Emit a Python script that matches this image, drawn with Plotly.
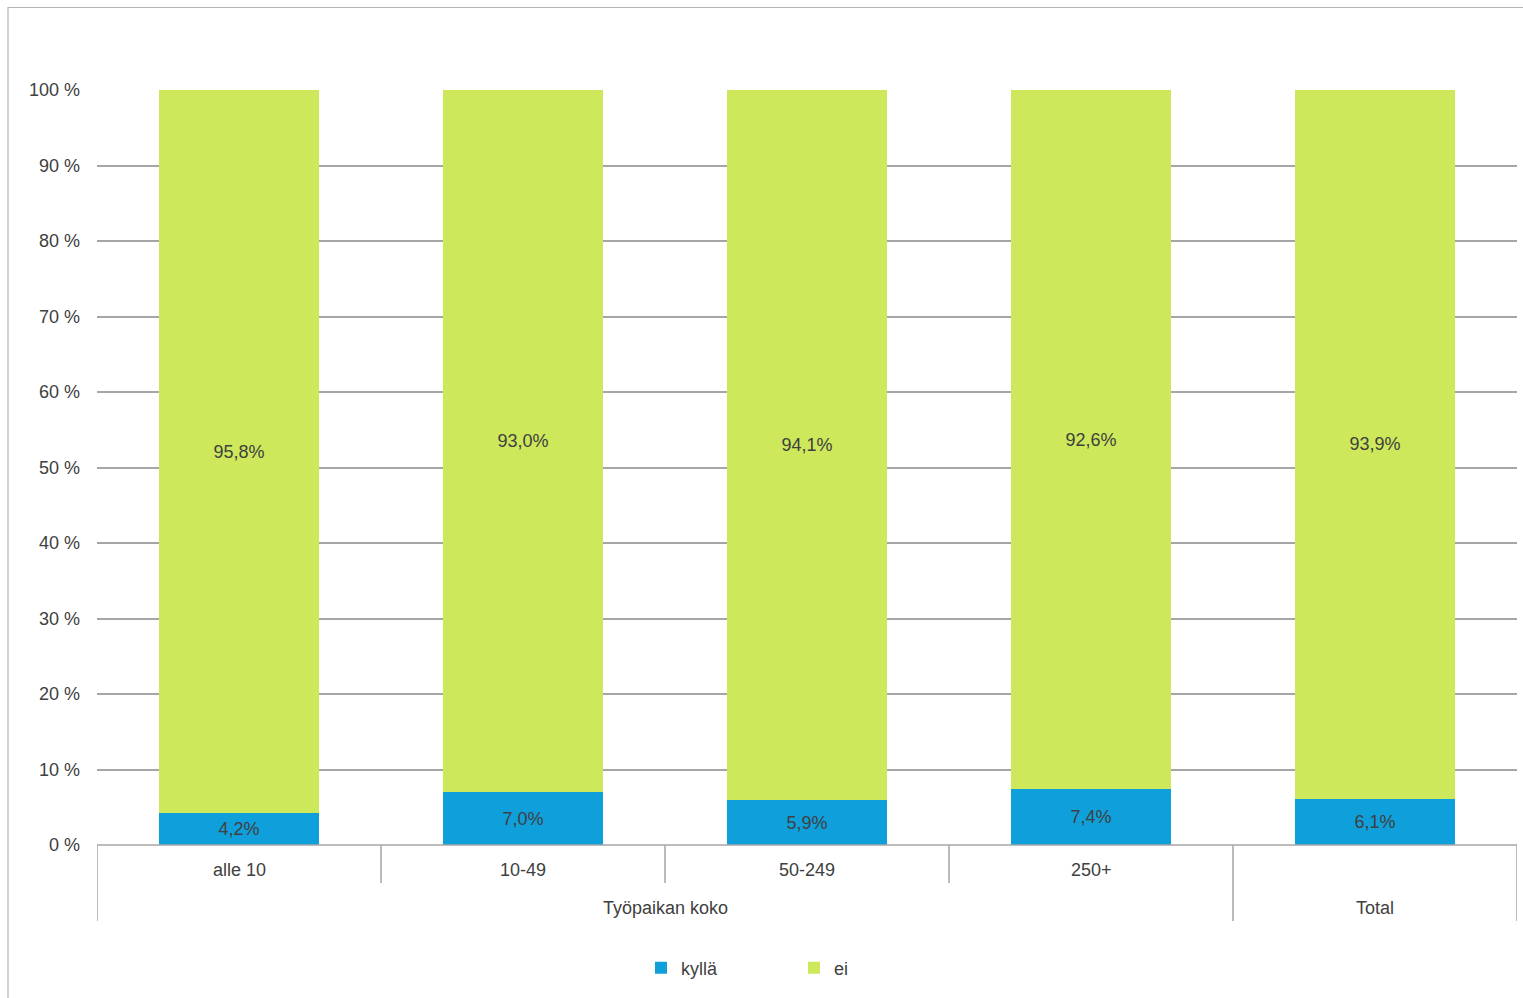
import plotly.graph_objects as go

categories = ["alle 10", "10-49", "50-249", "250+", "Total"]
group_labels = ["Työpaikan koko", "Total"]
kylla = [4.2, 7.0, 5.9, 7.4, 6.1]
ei = [95.8, 93.0, 94.1, 92.6, 93.9]
y_ticks = [0, 10, 20, 30, 40, 50, 60, 70, 80, 90, 100]

BLUE = "#0F9FDA"
GREEN = "#CDE85B"
TXT = "#404040"
GRID = "#A6A6A6"
FONT = "Liberation Sans, Arial, sans-serif"

def fmt(v):
    return f"{v:.1f}".replace(".", ",") + "%"

x_idx = list(range(len(categories)))

fig = go.Figure()
fig.add_trace(go.Bar(
    x=x_idx, y=kylla, name="kyllä", marker=dict(color=BLUE, line=dict(width=0)),
    text=[fmt(v) for v in kylla], textposition="inside", insidetextanchor="middle",
    textangle=0, constraintext="none",
    textfont=dict(size=18, color=TXT, family=FONT), width=0.565,
))
fig.add_trace(go.Bar(
    x=x_idx, y=ei, name="ei", marker=dict(color=GREEN, line=dict(width=0)),
    text=[fmt(v) for v in ei], textposition="inside", insidetextanchor="middle",
    textangle=0, constraintext="none",
    textfont=dict(size=18, color=TXT, family=FONT), width=0.565,
))

shapes = []
shapes.append(dict(type="line", xref="x", yref="paper", x0=-0.5, x1=4.5, y0=0, y1=0,
                   line=dict(color=GRID, width=1.6)))
inner_bottom = (845 - 883) / 755
outer_bottom = (845 - 921) / 755
for xv, yb in [(-0.5, outer_bottom), (0.5, inner_bottom), (1.5, inner_bottom),
               (2.5, inner_bottom), (3.5, outer_bottom), (4.5, outer_bottom)]:
    shapes.append(dict(type="line", xref="x", yref="paper", x0=xv, x1=xv, y0=0, y1=yb,
                       line=dict(color=GRID, width=1.5)))
shapes.append(dict(type="rect", xref="paper", yref="paper",
                   x0=(8 - 97) / 1420, x1=(1540 - 97) / 1420,
                   y0=(845 - 1010) / 755, y1=(845 - 7.5) / 755,
                   line=dict(color="#B4B4B4", width=1.2), fillcolor="rgba(0,0,0,0)",
                   layer="below"))

annotations = []
for i, c in enumerate(categories[:4]):
    annotations.append(dict(x=i, y=(845 - 870) / 755, xref="x", yref="paper", text=c,
                            yanchor="middle", showarrow=False,
                            font=dict(size=18, color=TXT, family=FONT)))
annotations.append(dict(x=1.5, y=(845 - 908) / 755, xref="x", yref="paper", text=group_labels[0],
                        yanchor="middle", showarrow=False, font=dict(size=18, color=TXT, family=FONT)))
annotations.append(dict(x=4, y=(845 - 908) / 755, xref="x", yref="paper", text=group_labels[1],
                        yanchor="middle", showarrow=False, font=dict(size=18, color=TXT, family=FONT)))

fig.update_layout(
    barmode="stack",
    width=1523, height=998,
    margin=dict(l=97, r=6, t=90, b=153),
    paper_bgcolor="white", plot_bgcolor="white",
    font=dict(family=FONT, size=18, color=TXT),
    xaxis=dict(range=[-0.5, 4.5], showticklabels=False, showgrid=False, zeroline=False,
               showline=False, ticks="", fixedrange=True),
    yaxis=dict(range=[0, 100], tickvals=y_ticks, ticktext=[f"{v} %" for v in y_ticks],
               showgrid=True, gridcolor=GRID, gridwidth=1.5, zeroline=False, showline=False,
               ticks="", ticklabelstandoff=16,
               tickfont=dict(size=18, color=TXT, family=FONT)),
    legend=dict(orientation="h", xref="container", yref="container",
                x=641 / 1523, y=1 - 968 / 998, xanchor="left", yanchor="middle",
                entrywidth=108, font=dict(size=18, color=TXT, family=FONT),
                itemwidth=30, traceorder="normal"),
    shapes=shapes, annotations=annotations,
    showlegend=True,
)

fig.write_html("out.html", config={"displayModeBar": False})
with open("out.html", "r", encoding="utf-8") as f:
    html = f.read()
html = html.replace("<head>", "<head><style>html,body{margin:0;padding:0;overflow:hidden;}</style>", 1)
with open("out.html", "w", encoding="utf-8") as f:
    f.write(html)
